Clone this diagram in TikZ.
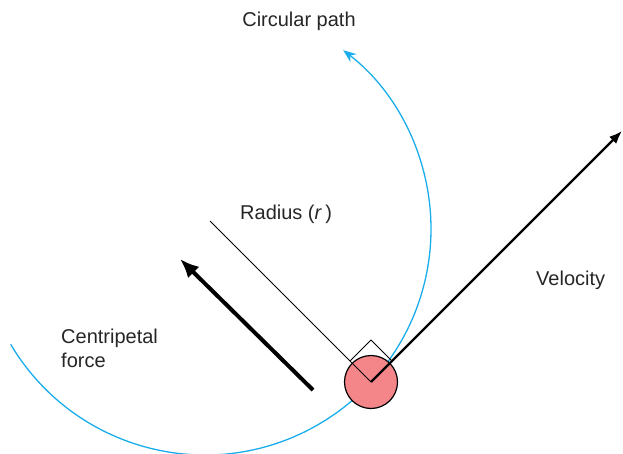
\documentclass[tikz,border=0pt]{standalone}
\usepackage{fontspec}
\setmainfont{Liberation Sans}
\usetikzlibrary{arrows.meta,calc}
\definecolor{pathblue}{HTML}{1AADEB}
\definecolor{ballred}{HTML}{F4868A}
\tikzset{
  lbl/.style={font=\fontsize{20}{24}\selectfont, text=black!85, inner sep=0pt},
  pathline/.style={draw=pathblue, line width=1.3pt, -{Stealth[length=13pt,width=10pt]}},
  thinline/.style={draw=black, line width=1pt},
}
\begin{document}
\begin{tikzpicture}[x=1pt,y=-1pt]
\useasboundingbox (0,0) rectangle (623,454);
% circular path
\coordinate (pc) at (205,229);
\coordinate (ps) at ($(pc)+(149.3:226)$);
\draw[pathline] (ps) arc[start angle=149.3, end angle=-52.3, radius=226];
% ball
\coordinate (c) at (371,382);
\node[circle, draw=black, line width=1.2pt, fill=ballred, minimum size=53pt, inner sep=0pt] (ball) at (c) {};
% radius
\coordinate (o) at (210,221);
\draw[thinline] (o) -- (c);
% right angle
\coordinate (ra1) at (350,361);
\coordinate (ra2) at (371,340);
\coordinate (ra3) at (392,361);
\draw[thinline] (ra1) -- (ra2) -- (ra3);
% velocity
\coordinate (v) at (622,131);
\draw[line width=2.2pt, -{Latex[length=13pt,width=10pt]}] (c) -- (v);
% centripetal force
\coordinate (f1) at (313,390);
\coordinate (f2) at (180,259);
\draw[line width=4pt, -{Latex[length=19pt,width=16pt]}] (f1) -- (f2);
% labels
\node[lbl] (tcp) at (299,21) {Circular path};
\node[lbl, anchor=west] (trad) at (240,214) {Radius (\textit{r}\,)};
\node[lbl, anchor=west] (tvel) at (536,280) {Velocity};
\node[lbl, anchor=west, align=left] (tcf) at (61,348) {Centripetal\\force};
\end{tikzpicture}
\end{document}
